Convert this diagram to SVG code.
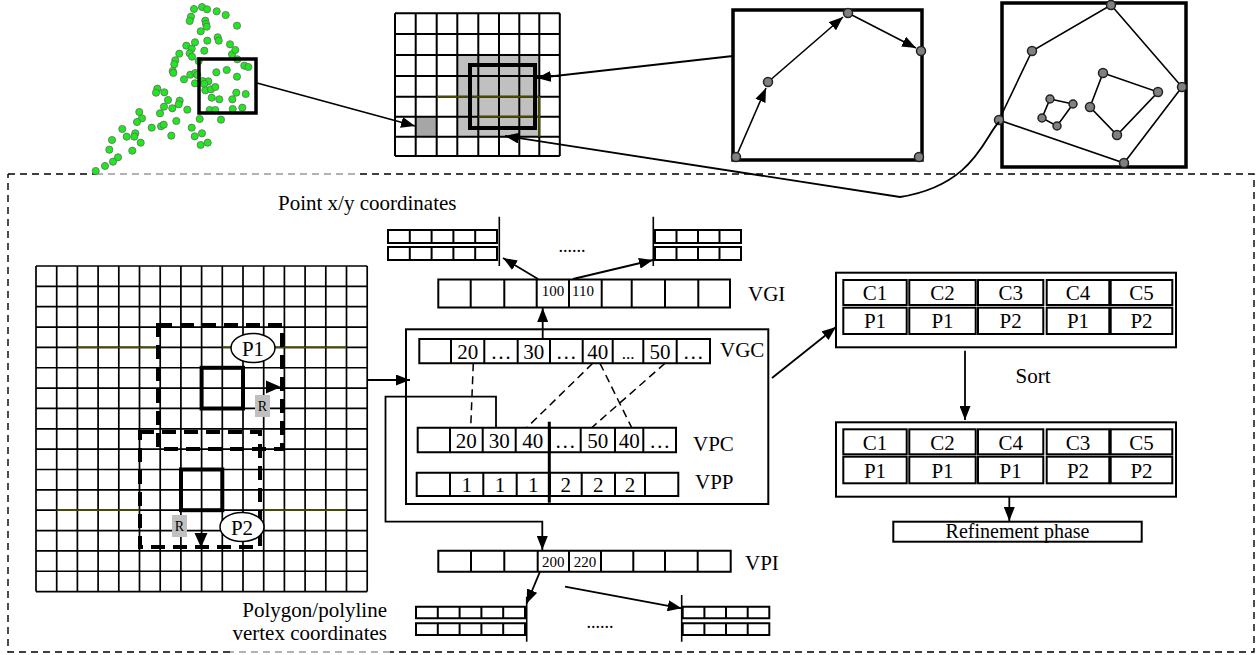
<svg xmlns="http://www.w3.org/2000/svg" width="1260" height="655" viewBox="0 0 1260 655">
<style>
.t{font-family:"Liberation Serif","Times New Roman",serif;fill:#000}
.c{text-anchor:middle}
.cell{fill:#fff;stroke:#000;stroke-width:2}
.ln{fill:none;stroke:#000;stroke-width:1.6}
.dl{fill:none;stroke:#000;stroke-width:1.4;stroke-dasharray:7 5}
.thick{fill:none;stroke:#000;stroke-width:4}
.pt{fill:#1ee81e;stroke:#6a6a6a;stroke-width:0.8}
.gp{fill:#808080;stroke:#222;stroke-width:1.5}
</style>
<defs>
<marker id="ah" markerUnits="userSpaceOnUse" markerWidth="14" markerHeight="11" refX="14" refY="5.5" orient="auto">
<path d="M0,0 L14,5.5 L0,11 z" fill="#000"/>
</marker>
</defs>
<rect width="1260" height="655" fill="#fff"/>

<!-- outer dashed frame -->
<g id="frame">
<path class="dl" d="M8 174H96 M360 174H1254V652H390 M230 652H8V174"/>
<path d="M96 174H360 M390 652H230" fill="none" stroke="#999" stroke-width="1.4" stroke-dasharray="7 5"/>
</g>

<!-- point cloud -->
<g id="points">
<circle class="pt" cx="194" cy="9" r="3.6"/><circle class="pt" cx="202" cy="7" r="3.6"/><circle class="pt" cx="207" cy="9.3" r="3.6"/><circle class="pt" cx="216.7" cy="11.3" r="3.6"/><circle class="pt" cx="225.7" cy="15" r="3.6"/>
<circle class="pt" cx="191" cy="16.7" r="3.6"/><circle class="pt" cx="189.7" cy="21" r="3.6"/><circle class="pt" cx="205.3" cy="20.7" r="3.6"/><circle class="pt" cx="206" cy="24" r="3.6"/><circle class="pt" cx="206.7" cy="26.7" r="3.6"/>
<circle class="pt" cx="237" cy="25.7" r="3.6"/><circle class="pt" cx="200.7" cy="31.3" r="3.6"/><circle class="pt" cx="217.7" cy="37.3" r="3.6"/><circle class="pt" cx="218.7" cy="40.7" r="3.6"/><circle class="pt" cx="207.3" cy="40.7" r="3.6"/>
<circle class="pt" cx="195" cy="42.3" r="3.6"/><circle class="pt" cx="186.3" cy="45.7" r="3.6"/><circle class="pt" cx="230" cy="44.3" r="3.6"/><circle class="pt" cx="191.7" cy="48.7" r="3.6"/><circle class="pt" cx="204.3" cy="50.7" r="3.6"/>
<circle class="pt" cx="179.3" cy="53.7" r="3.6"/><circle class="pt" cx="189.7" cy="53.3" r="3.6"/><circle class="pt" cx="192" cy="56.7" r="3.6"/><circle class="pt" cx="232" cy="54.3" r="3.6"/><circle class="pt" cx="235.3" cy="50" r="3.6"/>
<circle class="pt" cx="175.3" cy="60.3" r="3.6"/><circle class="pt" cx="174.3" cy="64.3" r="3.6"/><circle class="pt" cx="198.7" cy="61" r="3.6"/><circle class="pt" cx="237.3" cy="59.3" r="3.6"/><circle class="pt" cx="172.7" cy="71" r="3.6"/>
<circle class="pt" cx="173.3" cy="73" r="3.6"/><circle class="pt" cx="190.3" cy="74.7" r="3.6"/><circle class="pt" cx="195.3" cy="73" r="3.6"/><circle class="pt" cx="197.3" cy="75" r="3.6"/><circle class="pt" cx="216.3" cy="72.3" r="3.6"/>
<circle class="pt" cx="226.7" cy="70" r="3.6"/><circle class="pt" cx="244.3" cy="65.7" r="3.6"/><circle class="pt" cx="248.3" cy="67" r="3.6"/><circle class="pt" cx="237" cy="76.7" r="3.6"/><circle class="pt" cx="184" cy="79.3" r="3.6"/>
<circle class="pt" cx="195" cy="83.3" r="3.6"/><circle class="pt" cx="202.7" cy="81" r="3.6"/><circle class="pt" cx="208.3" cy="81.3" r="3.6"/><circle class="pt" cx="204.3" cy="84" r="3.6"/><circle class="pt" cx="205.3" cy="90.3" r="3.6"/>
<circle class="pt" cx="211" cy="89.3" r="3.6"/><circle class="pt" cx="215.3" cy="87" r="3.6"/><circle class="pt" cx="157.3" cy="88.7" r="3.6"/><circle class="pt" cx="156" cy="92.7" r="3.6"/><circle class="pt" cx="164.3" cy="92.3" r="3.6"/>
<circle class="pt" cx="168" cy="100" r="3.6"/><circle class="pt" cx="179.7" cy="100.7" r="3.6"/><circle class="pt" cx="178.7" cy="104.3" r="3.6"/><circle class="pt" cx="211.7" cy="97.7" r="3.6"/><circle class="pt" cx="219.3" cy="99.3" r="3.6"/>
<circle class="pt" cx="232.3" cy="99.3" r="3.6"/><circle class="pt" cx="236.3" cy="92.7" r="3.6"/><circle class="pt" cx="245.7" cy="94" r="3.6"/><circle class="pt" cx="164" cy="106.7" r="3.6"/><circle class="pt" cx="172.3" cy="108.3" r="3.6"/>
<circle class="pt" cx="187.3" cy="109.7" r="3.6"/><circle class="pt" cx="209.7" cy="110" r="3.6"/><circle class="pt" cx="215.3" cy="110" r="3.6"/><circle class="pt" cx="232.7" cy="109" r="3.6"/><circle class="pt" cx="242.3" cy="107.7" r="3.6"/>
<circle class="pt" cx="139.3" cy="112" r="3.6"/><circle class="pt" cx="142" cy="118.3" r="3.6"/><circle class="pt" cx="137" cy="122" r="3.6"/><circle class="pt" cx="160" cy="113.3" r="3.6"/><circle class="pt" cx="176.3" cy="121" r="3.6"/>
<circle class="pt" cx="199.7" cy="119" r="3.6"/><circle class="pt" cx="221" cy="119.7" r="3.6"/><circle class="pt" cx="122.3" cy="129" r="3.6"/><circle class="pt" cx="151.7" cy="127.7" r="3.6"/><circle class="pt" cx="161" cy="126.3" r="3.6"/>
<circle class="pt" cx="163.7" cy="124.7" r="3.6"/><circle class="pt" cx="191.7" cy="127.7" r="3.6"/><circle class="pt" cx="135.3" cy="133.3" r="3.6"/><circle class="pt" cx="126.7" cy="136.7" r="3.6"/><circle class="pt" cx="134.3" cy="136.7" r="3.6"/>
<circle class="pt" cx="171.3" cy="135.7" r="3.6"/><circle class="pt" cx="194.7" cy="136.3" r="3.6"/><circle class="pt" cx="202" cy="133.3" r="3.6"/><circle class="pt" cx="112" cy="140" r="3.6"/><circle class="pt" cx="140.7" cy="142.7" r="3.6"/>
<circle class="pt" cx="200.7" cy="145" r="3.6"/><circle class="pt" cx="207.7" cy="142.7" r="3.6"/><circle class="pt" cx="109.3" cy="149.7" r="3.6"/><circle class="pt" cx="132.3" cy="150.7" r="3.6"/><circle class="pt" cx="118" cy="157.3" r="3.6"/>
<circle class="pt" cx="113" cy="161.7" r="3.6"/><circle class="pt" cx="105" cy="166" r="3.6"/><circle class="pt" cx="95.7" cy="171" r="3.6"/>
<rect x="199" y="59" width="57" height="54" fill="none" stroke="#000" stroke-width="3.5"/>
</g>

<!-- top grid -->
<g id="top-grid">
<rect x="457.3" y="55" width="82" height="81.7" fill="#c0c0c0"/>
<rect x="415.7" y="116.7" width="21" height="20" fill="#a6a6a6"/>
<path d="M395 13.3V156 M415.7 13.3V156 M436.7 13.3V156 M457.3 13.3V156 M478.3 13.3V156 M499 13.3V156 M519.3 13.3V156 M539.3 13.3V156 M559.8 13.3V156 M395 13.3H559.8 M395 34H559.8 M395 55H559.8 M395 76H559.8 M395 96.7H559.8 M395 116.7H559.8 M395 136.7H559.8 M395 156H559.8" fill="none" stroke="#000" stroke-width="2"/>
<path d="M436.7 96.7H539.3 M478.3 116.7H539.3 M539.3 96.7V136.7" fill="none" stroke="#4a4a00" stroke-width="2"/>
<rect x="470" y="65" width="65" height="63" class="thick"/>
</g>

<!-- box with points/arrows -->
<g id="point-box">
<rect x="733" y="10" width="189" height="150" fill="#fff" stroke="#000" stroke-width="3.5"/>
<path class="ln" d="M736 157L766 88" marker-end="url(#ah)"/>
<path class="ln" d="M768 82L843 17" marker-end="url(#ah)"/>
<path class="ln" d="M848 13L916 48" marker-end="url(#ah)"/>
<circle class="gp" cx="736" cy="157" r="4.5"/>
<circle class="gp" cx="768" cy="82" r="4.5"/>
<circle class="gp" cx="848" cy="13" r="4.5"/>
<circle class="gp" cx="921" cy="51" r="4.5"/>
<circle class="gp" cx="919" cy="157" r="4.5"/>
</g>

<!-- box with polygons -->
<g id="polygon-box">
<rect x="1002" y="3" width="184" height="164" fill="#fff" stroke="#000" stroke-width="3.5"/>
<path class="ln" d="M999 120L1032 51L1111 5L1182 87L1124 163Z"/>
<path class="ln" d="M1103 73L1158 92L1117 135L1090 107Z"/>
<path class="ln" d="M1050 99L1073 104L1057 126L1042 118Z"/>
<circle class="gp" cx="999" cy="120" r="4.5"/><circle class="gp" cx="1032" cy="51" r="4.5"/><circle class="gp" cx="1111" cy="5" r="4.5"/><circle class="gp" cx="1182" cy="87" r="4.5"/><circle class="gp" cx="1124" cy="163" r="4.5"/>
<circle class="gp" cx="1103" cy="73" r="4.5"/><circle class="gp" cx="1158" cy="92" r="4.5"/><circle class="gp" cx="1117" cy="135" r="4.5"/><circle class="gp" cx="1090" cy="107" r="4.5"/>
<circle class="gp" cx="1050" cy="99" r="4"/><circle class="gp" cx="1073" cy="104" r="4"/><circle class="gp" cx="1057" cy="126" r="4"/><circle class="gp" cx="1042" cy="118" r="4"/>
</g>

<!-- big grid -->
<g id="big-grid">
<path d="M36 266V591.6 M56.7 266V591.6 M77.4 266V591.6 M98.1 266V591.6 M118.8 266V591.6 M139.5 266V591.6 M160.2 266V591.6 M180.9 266V591.6 M201.6 266V591.6 M222.3 266V591.6 M243 266V591.6 M263.7 266V591.6 M284.4 266V591.6 M305.1 266V591.6 M325.8 266V591.6 M346.5 266V591.6 M367.2 266V591.6 M36 266H367.2 M36 286.35H367.2 M36 306.7H367.2 M36 327.05H367.2 M36 347.4H367.2 M36 367.75H367.2 M36 388.1H367.2 M36 408.45H367.2 M36 428.8H367.2 M36 449.15H367.2 M36 469.5H367.2 M36 489.85H367.2 M36 510.2H367.2 M36 530.55H367.2 M36 550.9H367.2 M36 571.25H367.2 M36 591.6H367.2" fill="none" stroke="#000" stroke-width="1.7"/>
<path d="M77.4 347.4H160.2 M222.3 347.4H346.5 M56.7 510.2H139.5 M263.7 510.2H346.5" fill="none" stroke="#4a4a00" stroke-width="1.7"/>
<path d="M158 325H282V449H158Z" fill="none" stroke="#000" stroke-width="4" stroke-dasharray="14 8"/>
<path d="M140 432H260V547H140Z" fill="none" stroke="#000" stroke-width="4" stroke-dasharray="14 8"/>
<rect x="201.6" y="367.8" width="41.4" height="40.7" class="thick"/>
<rect x="181" y="469.5" width="41.3" height="40.7" class="thick"/>
<path d="M266 380.5L281 387L266 393.5Z" fill="#000"/>
<path d="M194.5 533L201 547.5L207.5 533Z" fill="#000"/>
<rect x="255" y="395" width="15" height="22" fill="#c0c0c0"/>
<text class="t c" x="262.5" y="411" font-size="14">R</text>
<rect x="172" y="515" width="15" height="22" fill="#c0c0c0"/>
<text class="t c" x="179.5" y="531" font-size="14">R</text>
</g>
<g id="p1">
<ellipse cx="253" cy="348" rx="22" ry="14.5" fill="#fff" stroke="#000" stroke-width="1.5"/>
<text class="t c" x="253" y="355.5" font-size="21">P1</text>
</g>
<g id="p2">
<ellipse cx="242" cy="527" rx="22" ry="14.5" fill="#fff" stroke="#000" stroke-width="1.5"/>
<text class="t c" x="242" y="534.5" font-size="21">P2</text>
</g>

<!-- point coordinate tables -->
<g id="point-coords">
<text class="t" x="278" y="210" font-size="21">Point x/y coordinates</text>
<path class="cell" d="M388 230H497V243H388Z M409.8 230V243 M431.6 230V243 M453.4 230V243 M475.2 230V243 M388 247H497V260H388Z M409.8 247V260 M431.6 247V260 M453.4 247V260 M475.2 247V260"/>
<path class="cell" d="M655 230H741V243H655Z M676.5 230V243 M698 230V243 M719.5 230V243 M655 247H741V260H655Z M676.5 247V260 M698 247V260 M719.5 247V260"/>
<path class="ln" d="M499.3 216.7V266 M653.3 216.7V266" stroke-width="2"/>
<text class="t c" x="572" y="252" font-size="18">......</text>
</g>

<!-- VGI -->
<g id="vgi">
<path class="cell" d="M438.3 279.5H730V307.5H438.3Z M470.7 279.5V307.5 M504.3 279.5V307.5 M536.7 279.5V307.5 M569 279.5V307.5 M601.7 279.5V307.5 M631.7 279.5V307.5 M665 279.5V307.5 M698.3 279.5V307.5"/>
<text class="t c" x="553" y="296" font-size="15">100</text>
<text class="t c" x="583" y="296" font-size="15">110</text>
<text class="t" x="748" y="301" font-size="21">VGI</text>
</g>

<!-- VGC container -->
<g id="vgc-box">
<rect x="406" y="329.3" width="362.3" height="174.7" fill="none" stroke="#000" stroke-width="2"/>
<path class="cell" d="M419.3 339H710V363.3H419.3Z M451 339V363.3 M484.3 339V363.3 M517.7 339V363.3 M550 339V363.3 M582.7 339V363.3 M612.7 339V363.3 M643.3 339V363.3 M676.7 339V363.3"/>
<g class="t c" font-size="21">
<text x="467.7" y="359">20</text><text x="501" y="359">…</text><text x="533.8" y="359">30</text><text x="566.3" y="359">…</text><text x="597.7" y="359">40</text><text x="628" y="359" font-size="17">...</text><text x="660" y="359">50</text><text x="693.3" y="359">…</text>
</g>
<text class="t" x="720" y="357" font-size="21">VGC</text>
<path class="cell" d="M417.7 427.7H676V452.3H417.7Z M450 427.7V452.3 M482.7 427.7V452.3 M515.7 427.7V452.3 M550 427.7V452.3 M580.7 427.7V452.3 M615 427.7V452.3 M643.3 427.7V452.3"/>
<g class="t c" font-size="21">
<text x="466.3" y="448">20</text><text x="499.2" y="448">30</text><text x="532.8" y="448">40</text><text x="565.3" y="448">…</text><text x="597.8" y="448">50</text><text x="629.2" y="448">40</text><text x="659.7" y="448">…</text>
</g>
<text class="t" x="693" y="451" font-size="21">VPC</text>
<path class="cell" d="M416.7 472.7H678.3V496H416.7Z M450 472.7V496 M483.3 472.7V496 M516.7 472.7V496 M550 472.7V496 M581.7 472.7V496 M615 472.7V496 M645 472.7V496"/>
<g class="t c" font-size="21">
<text x="466.7" y="492">1</text><text x="500" y="492">1</text><text x="533.3" y="492">1</text><text x="565.8" y="492">2</text><text x="598.3" y="492">2</text><text x="630" y="492">2</text>
</g>
<text class="t" x="695" y="489" font-size="21">VPP</text>
<path d="M549.3 421.7V502.7" stroke="#000" stroke-width="3"/>
<path d="M473.3 363.3L470.7 427.7 M592.7 363.3L526.7 427.7 M600 363.3L631.7 427.7 M665 363.3L591.7 427.7" fill="none" stroke="#000" stroke-width="1.5" stroke-dasharray="8 5"/>
</g>

<!-- VPI -->
<g id="vpi">
<path class="cell" d="M438.3 550.7H730.7V571.7H438.3Z M471 550.7V571.7 M504.3 550.7V571.7 M537.7 550.7V571.7 M569 550.7V571.7 M601 550.7V571.7 M633.3 550.7V571.7 M665 550.7V571.7 M697.7 550.7V571.7"/>
<text class="t c" x="553.3" y="567" font-size="15">200</text>
<text class="t c" x="585" y="567" font-size="15">220</text>
<text class="t" x="745" y="570" font-size="21">VPI</text>
</g>

<!-- polygon vertex tables -->
<g id="poly-coords">
<path class="cell" d="M416 606.7H525V618.3H416Z M437.8 606.7V618.3 M459.6 606.7V618.3 M481.4 606.7V618.3 M503.2 606.7V618.3 M416 623.3H525V635H416Z M437.8 623.3V635 M459.6 623.3V635 M481.4 623.3V635 M503.2 623.3V635"/>
<path class="cell" d="M682.7 606.7H769.3V618.3H682.7Z M704.4 606.7V618.3 M726 606.7V618.3 M747.7 606.7V618.3 M682.7 623.3H769.3V635H682.7Z M704.4 623.3V635 M726 623.3V635 M747.7 623.3V635"/>
<path class="ln" d="M526.7 596.7V641.7 M681.7 595V641.7" stroke-width="2"/>
<text class="t c" x="600" y="628" font-size="18">......</text>
<text class="t" x="387" y="617" font-size="21" text-anchor="end">Polygon/polyline</text>
<text class="t" x="387" y="640" font-size="21" text-anchor="end">vertex coordinates</text>
</g>

<!-- candidate pairs -->
<g id="pairs">
<rect x="836" y="272.7" width="340" height="74.6" fill="none" stroke="#000" stroke-width="2"/>
<g class="cell">
<rect x="843.3" y="280" width="63.4" height="25"/><rect x="909.3" y="280" width="66.4" height="25"/><rect x="978" y="280" width="65.3" height="25"/><rect x="1046.7" y="280" width="62.6" height="25"/><rect x="1110.7" y="280" width="61.6" height="25"/>
<rect x="843.3" y="307.7" width="63.4" height="26.3"/><rect x="909.3" y="307.7" width="66.4" height="26.3"/><rect x="978" y="307.7" width="65.3" height="26.3"/><rect x="1046.7" y="307.7" width="62.6" height="26.3"/><rect x="1110.7" y="307.7" width="61.6" height="26.3"/>
</g>
<g class="t c" font-size="21">
<text x="875" y="300">C1</text><text x="942.5" y="300">C2</text><text x="1010.7" y="300">C3</text><text x="1078" y="300">C4</text><text x="1141.5" y="300">C5</text>
<text x="875" y="328">P1</text><text x="942.5" y="328">P1</text><text x="1010.7" y="328">P2</text><text x="1078" y="328">P1</text><text x="1141.5" y="328">P2</text>
</g>
</g>
<g id="sorted-pairs">
<rect x="836" y="422.3" width="340" height="74.4" fill="none" stroke="#000" stroke-width="2"/>
<g class="cell">
<rect x="843.3" y="429.3" width="63.4" height="25"/><rect x="909.3" y="429.3" width="66.4" height="25"/><rect x="978" y="429.3" width="65.3" height="25"/><rect x="1046.7" y="429.3" width="62.6" height="25"/><rect x="1110.7" y="429.3" width="61.6" height="25"/>
<rect x="843.3" y="456.7" width="63.4" height="26.6"/><rect x="909.3" y="456.7" width="66.4" height="26.6"/><rect x="978" y="456.7" width="65.3" height="26.6"/><rect x="1046.7" y="456.7" width="62.6" height="26.6"/><rect x="1110.7" y="456.7" width="61.6" height="26.6"/>
</g>
<g class="t c" font-size="21">
<text x="875" y="449.5">C1</text><text x="942.5" y="449.5">C2</text><text x="1010.7" y="449.5">C4</text><text x="1078" y="449.5">C3</text><text x="1141.5" y="449.5">C5</text>
<text x="875" y="477.5">P1</text><text x="942.5" y="477.5">P1</text><text x="1010.7" y="477.5">P1</text><text x="1078" y="477.5">P2</text><text x="1141.5" y="477.5">P2</text>
</g>
</g>
<g id="refinement">
<rect x="893.3" y="521.7" width="248.4" height="20" fill="#fff" stroke="#000" stroke-width="2"/>
<text class="t c" x="1017.5" y="538" font-size="20">Refinement phase</text>
</g>
<text class="t c" x="1033" y="383" font-size="21">Sort</text>

<!-- connectors -->
<g id="connectors" fill="none" stroke="#000" stroke-width="1.8">
<path d="M257 83L415 126" marker-end="url(#ah)"/>
<path d="M733 56L537 78" marker-end="url(#ah)"/>
<path d="M999 122C985 135 975 185 900 197L505 136" marker-end="url(#ah)"/>
<path d="M367 380H410" marker-end="url(#ah)"/>
<path d="M542.7 338V308" marker-end="url(#ah)"/>
<path d="M538 279L503 258" marker-end="url(#ah)"/>
<path d="M573 279L653 260" marker-end="url(#ah)"/>
<path d="M496 427.7V396.7H385.5V521.7H542.3V550" marker-end="url(#ah)"/>
<path d="M540 571.7L526.7 603.5" marker-end="url(#ah)"/>
<path d="M565 586.7L681.7 608.3" marker-end="url(#ah)"/>
<path d="M772 378L836 327" marker-end="url(#ah)"/>
<path d="M965 350.7V420" marker-end="url(#ah)"/>
<path d="M1009.3 497V521" marker-end="url(#ah)"/>
</g>
</svg>
